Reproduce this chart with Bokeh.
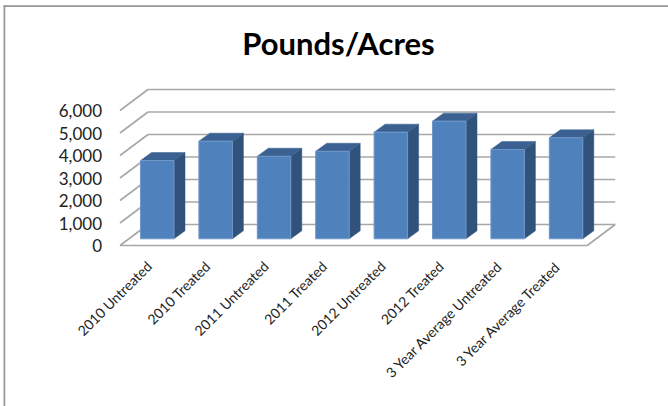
from bokeh.plotting import figure
from bokeh.models import Range1d, FixedTicker, NumeralTickFormatter, Label
from bokeh.embed import file_html
from bokeh.resources import INLINE

categories = ["2010 Untreated", "2010 Treated", "2011 Untreated", "2011 Treated",
              "2012 Untreated", "2012 Treated", "3 Year Average Untreated", "3 Year Average Treated"]
values = [3480, 4340, 3670, 3890, 4740, 5230, 3970, 4490]
y_ticks = [0, 1000, 2000, 3000, 4000, 5000, 6000]

FIG_W, FIG_H = 668, 406

# pixel position of the chart's origin and projection of its depth, as data units
ORIGIN_X, ORIGIN_Y = 119.5, 245
PX_PER_CAT = 58.4
PX_PER_VAL = 22.5 / 1000
DX = 28 / PX_PER_CAT
DY = 21 / PX_PER_VAL
BAR_W = 33.5 / PX_PER_CAT
BAR_OFF = 20.5 / PX_PER_CAT
BAR_BASE = 6.7 / PX_PER_VAL
BAR_DX = 11 / PX_PER_CAT
BAR_DY = 8 / PX_PER_VAL
N = len(categories)


def px_x(px):
    return (px - ORIGIN_X) / PX_PER_CAT


def px_y(px):
    return (ORIGIN_Y - px) / PX_PER_VAL


p = figure(width=FIG_W, height=FIG_H, output_backend="svg", toolbar_location=None,
           x_range=Range1d(px_x(0), px_x(FIG_W)), y_range=Range1d(px_y(FIG_H), px_y(0)),
           min_border=0, background_fill_color="white", border_fill_color="white",
           outline_line_color=None)
p.grid.visible = False

# chart-area border (top and left edges only)
BORDER = "#969696"
p.segment([px_x(3.9), px_x(3.1)], [px_y(FIG_H), px_y(5.7)], [px_x(3.9), px_x(FIG_W)], [px_y(5), px_y(5.7)],
          line_color=BORDER, line_width=1.7)

# title
p.add_layout(Label(x=px_x(338), y=px_y(42), text="Pounds/Acres", text_align="center", text_baseline="middle",
                   text_font="Lato", text_font_size="31px", text_font_style="bold", text_color="black"))

# axes
p.yaxis.fixed_location = 0
p.yaxis.ticker = FixedTicker(ticks=y_ticks)
p.yaxis.formatter = NumeralTickFormatter(format="0,0")
p.yaxis.axis_line_color = None
p.yaxis.major_tick_line_color = None
p.yaxis.minor_tick_line_color = None
p.yaxis.major_tick_out = 0
p.yaxis.major_label_standoff = 18
p.yaxis.major_label_text_font = "Lato"
p.yaxis.major_label_text_font_size = "17px"
p.yaxis.major_label_text_color = "#222222"

p.xaxis.fixed_location = 0
p.xaxis.ticker = FixedTicker(ticks=[i + 0.5 for i in range(N)])
p.xaxis.major_label_overrides = {i + 0.5: c for i, c in enumerate(categories)}
p.xaxis.axis_line_color = None
p.xaxis.major_tick_line_color = None
p.xaxis.minor_tick_line_color = None
p.xaxis.major_tick_out = 0
p.xaxis.major_label_orientation = 0.785
p.xaxis.major_label_standoff = 18
p.xaxis.major_label_text_font = "Lato"
p.xaxis.major_label_text_font_size = "14px"
p.xaxis.major_label_text_color = "#222222"

# walls and floor
GRID = "#a8a8a8"
p.segment([DX] * len(y_ticks), [v + DY for v in y_ticks], [N + DX] * len(y_ticks), [v + DY for v in y_ticks],
          line_color=GRID, line_width=1.7)
p.segment([0] * len(y_ticks), y_ticks, [DX] * len(y_ticks), [v + DY for v in y_ticks],
          line_color=GRID, line_width=1.7)
p.line([0, N, N + DX], [0, 0, DY], line_color=GRID, line_width=1.7)

# bars
lefts = [i + BAR_OFF for i in range(N)]
rights = [l + BAR_W for l in lefts]
tops = [BAR_BASE + v for v in values]
p.patches([[r, r + BAR_DX, r + BAR_DX, r] for r in rights],
          [[BAR_BASE, BAR_BASE + BAR_DY, t + BAR_DY, t] for t in tops],
          fill_color="#31527a", line_color="#31527a", line_width=0.5)
p.patches([[l, l + BAR_DX, r + BAR_DX, r] for l, r in zip(lefts, rights)],
          [[t, t + BAR_DY, t + BAR_DY, t] for t in tops],
          fill_color="#3a6191", line_color="#3a6191", line_width=0.5)
p.quad(left=lefts, right=rights, bottom=BAR_BASE, top=tops,
       fill_color="#4f81bd", line_color="#6f98c9", line_width=1)

open("out.html", "w").write(file_html(p, INLINE))
